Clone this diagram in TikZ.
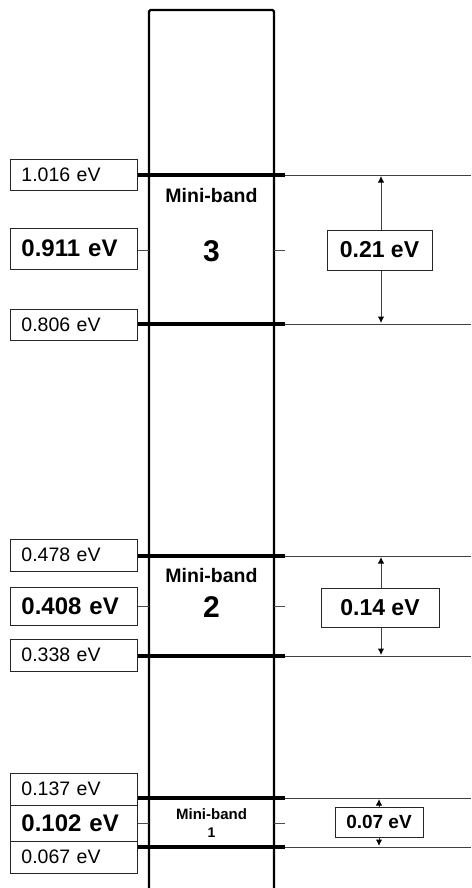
\documentclass[tikz,border=0pt]{standalone}
\usepackage{fontspec}
\setmainfont{Liberation Sans}
\usetikzlibrary{arrows.meta}
\tikzset{
  lbox/.style={draw=black!85, line width=0.9pt, inner xsep=11pt, inner ysep=0pt,
    text width=105pt, align=left, anchor=west},
  rbox/.style={draw=black!85, fill=white, line width=0.9pt, inner sep=0pt,
    font=\bfseries\fontsize{23}{23}\selectfont},
  smallval/.style={font=\fontsize{19.5}{20}\selectfont},
  bigval/.style={font=\bfseries\fontsize{24}{24}\selectfont},
  mbtext/.style={font=\bfseries\fontsize{19.5}{20}\selectfont, inner sep=0pt},
  mbnum/.style={font=\bfseries\fontsize{30}{30}\selectfont, inner sep=0pt},
  bandline/.style={line width=4pt, black},
  extline/.style={line width=1pt, black!75},
  tick/.style={line width=1pt, black!70},
  gap/.style={line width=1pt, black!75, {Latex[length=6.5pt,width=6.5pt,color=black]}-{Latex[length=6.5pt,width=6.5pt,color=black]}},
}
\begin{document}
\begin{tikzpicture}[x=1pt,y=-1pt]
\useasboundingbox (0,0) rectangle (471,888);
\fill[white] (0,0) rectangle (471,888);
% frame
\draw[line width=2.2pt, rounded corners=1.5pt] (149,892) -- (149,10) -- (274,10) -- (274,892);

% ===== band 3 =====
\coordinate (t3L) at (137,175); \coordinate (t3M) at (285,175); \coordinate (t3R) at (471,175);
\coordinate (b3L) at (137,324); \coordinate (b3M) at (285,324); \coordinate (b3R) at (471,324);
\coordinate (m3a) at (137,250); \coordinate (m3b) at (149,250);
\coordinate (m3c) at (274,250); \coordinate (m3d) at (285,250);
\coordinate (a3t) at (381,176); \coordinate (a3b) at (381,323);
\draw[extline] (t3M) -- (t3R);
\draw[extline] (b3M) -- (b3R);
\draw[bandline] (t3L) -- (t3M);
\draw[bandline] (b3L) -- (b3M);
\draw[tick] (m3a) -- (m3b);
\draw[tick] (m3c) -- (m3d);
\draw[gap] (a3t) -- (a3b);
\node[lbox, smallval, minimum height=31pt] (v3top) at (10,174.5) {1.016 eV};
\node[lbox, bigval, minimum height=41pt] (v3mid) at (10,248.5) {0.911 eV};
\node[lbox, smallval, minimum height=31pt] (v3bot) at (10,324.5) {0.806 eV};
\node[rbox, minimum width=105pt, minimum height=40pt] (w3) at (379.5,250) {0.21 eV};
\node[mbtext] (mb3) at (211.5,196) {Mini-band};
\node[mbnum] (n3) at (211.5,251) {3};

% ===== band 2 =====
\coordinate (t2L) at (137,556); \coordinate (t2M) at (285,556); \coordinate (t2R) at (471,556);
\coordinate (b2L) at (137,656); \coordinate (b2M) at (285,656); \coordinate (b2R) at (471,656);
\coordinate (m2a) at (137,606); \coordinate (m2b) at (149,606);
\coordinate (m2c) at (274,606); \coordinate (m2d) at (285,606);
\coordinate (a2t) at (381,557); \coordinate (a2b) at (381,655);
\draw[extline] (t2M) -- (t2R);
\draw[extline] (b2M) -- (b2R);
\draw[bandline] (t2L) -- (t2M);
\draw[bandline] (b2L) -- (b2M);
\draw[tick] (m2a) -- (m2b);
\draw[tick] (m2c) -- (m2d);
\draw[gap] (a2t) -- (a2b);
\node[lbox, smallval, minimum height=32pt] (v2top) at (10,555) {0.478 eV};
\node[lbox, bigval, minimum height=38pt] (v2mid) at (10,606) {0.408 eV};
\node[lbox, smallval, minimum height=32pt] (v2bot) at (10,655) {0.338 eV};
\node[rbox, minimum width=118pt, minimum height=39pt] (w2) at (380,607.5) {0.14 eV};
\node[mbtext] (mb2) at (211.5,576) {Mini-band};
\node[mbnum] (n2) at (211.5,607) {2};

% ===== band 1 =====
\coordinate (t1L) at (137,798); \coordinate (t1M) at (285,798); \coordinate (t1R) at (471,798);
\coordinate (b1L) at (137,847); \coordinate (b1M) at (285,847); \coordinate (b1R) at (471,847);
\coordinate (m1a) at (137,823); \coordinate (m1b) at (149,823);
\coordinate (m1c) at (274,823); \coordinate (m1d) at (285,823);
\coordinate (a1t) at (379,799); \coordinate (a1b) at (379,846);
\draw[extline] (t1M) -- (t1R);
\draw[extline] (b1M) -- (b1R);
\draw[bandline] (t1L) -- (t1M);
\draw[bandline] (b1L) -- (b1M);
\draw[tick] (m1a) -- (m1b);
\draw[tick] (m1c) -- (m1d);
\draw[gap] (a1t) -- (a1b);
\node[lbox, smallval, minimum height=32pt] (v1top) at (10,789) {0.137 eV};
\node[lbox, bigval, minimum height=36pt] (v1mid) at (10,823) {0.102 eV};
\node[lbox, smallval, minimum height=32pt] (v1bot) at (10,857) {0.067 eV};
\node[rbox, minimum width=88pt, minimum height=30pt, font=\bfseries\fontsize{19}{19}\selectfont] (w1) at (379,822) {0.07 eV};
\node[mbtext, font=\bfseries\fontsize{15}{15}\selectfont] (mb1) at (211.5,814) {Mini-band};
\node[mbtext, font=\bfseries\fontsize{14}{14}\selectfont] (n1) at (211.5,833) {1};
\end{tikzpicture}
\end{document}
